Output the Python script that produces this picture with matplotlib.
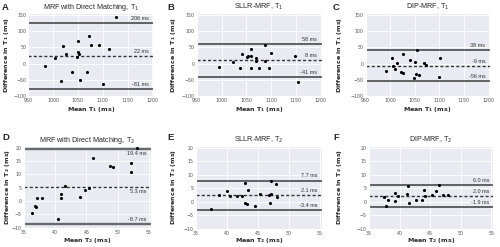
import matplotlib
matplotlib.use("Agg")
import matplotlib.pyplot as plt
import matplotlib.transforms as mtransforms
import seaborn as sns

sns.set_style("darkgrid")
plt.rcParams['font.family'] = ['DejaVu Sans']

# ---------------- data ----------------
titles = ["MRF with Direct Matching, T$_1$", "SLLR-MRF, T$_1$", "DIP-MRF, T$_1$",
          "MRF with Direct Matching, T$_2$", "SLLR-MRF, T$_2$", "DIP-MRF, T$_2$"]
letters = ["A", "B", "C", "D", "E", "F"]

a_x = [1127, 1072, 1051, 1020, 1076, 1093, 1113, 1027, 1051, 1053, 1049, 1003, 983, 1039, 1069, 1016, 1055, 1100]
a_y = [145, 87, 70, 55, 59, 58, 44, 31, 35, 29, 19, 18, -9, -26, -26, -54, -51, -64]
b_x = [994, 1023, 1037, 1042, 1051, 1053, 1060, 1059, 1060, 1069, 1070, 1075, 1088, 1087, 1095, 1100, 1149, 1155]
b_y = [-11, 4, -13, 29, 21, 23, 44, 23, -14, 17, 9, -13, 59, 8, -15, 32, 23, -57]
c_x = [1003, 1026, 1055, 1040, 1051, 1015, 991, 1006, 1010, 1022, 1027, 1048, 1053, 1059, 1068, 1072, 1102, 1099]
c_y = [16, 30, 41, 11, 6, 1, -24, -9, -16, -26, -29, -45, -33, -36, 1, -5, 18, -41]
d_x = [36.3, 36.7, 37.0, 37.1, 37.9, 40.4, 41.0, 41.0, 41.5, 44.0, 44.8, 45.4, 46.1, 48.8, 49.2, 52.2, 52.2, 53.1]
d_y = [-4.3, -1.8, -2.3, 1.0, 1.2, -6.8, 2.6, 1.3, 5.8, 1.4, 4.1, 4.9, 16.0, 13.0, 12.7, 14.4, 10.8, 19.9]
e_x = [37.4, 38.7, 40.1, 40.5, 41.6, 42.4, 43.0, 42.9, 43.3, 43.4, 44.5, 45.4, 47.1, 46.8, 47.1, 46.9, 47.9, 48.1]
e_y = [-2.6, 2.3, 3.8, 2.0, 2.1, 2.0, 6.8, -0.6, -0.9, 4.3, -1.8, 2.9, 7.8, 2.3, 2.8, -0.4, 6.6, 1.8]
f_x = [37.4, 37.7, 38.1, 39.2, 39.2, 39.8, 41.2, 41.4, 41.6, 42.7, 43.6, 44.0, 44.1, 45.3, 45.9, 46.4, 47.1, 47.9]
f_y = [1.6, -1.5, 0.5, 3.0, 0.1, 1.9, 2.8, 5.7, -0.7, 0.4, 0.5, 4.3, 1.9, 2.3, 4.0, 6.3, 2.6, 2.6]

# agreement lines: upper limit, mean, lower limit (as drawn) and their labels
lines_y = [[125, 23, -80], [61, 10, -42], [41, -7, -54],
           [19.5, 5.4, -8.7], [7.8, 2.4, -3.3], [6.1, 2.2, -1.9]]
line_labels = [["206 ms", "22 ms", "-81 ms"], ["58 ms", "8 ms", "-41 ms"],
               ["38 ms", "-9 ms", "-56 ms"], ["19.4 ms", "5.3 ms", "-8.7 ms"],
               ["7.7 ms", "2.1 ms", "-3.4 ms"], ["6.0 ms", "2.0 ms", "-1.9 ms"]]

t1_xticks = [950, 1000, 1050, 1100, 1150, 1200]
t1_yticks = [-100, -50, 0, 50, 100, 150]
t2_xticks = [35, 40, 45, 50, 55]
t2_yticks = [-10, -5, 0, 5, 10, 15, 20]

xs = [a_x, b_x, c_x, d_x, e_x, f_x]
ys = [a_y, b_y, c_y, d_y, e_y, f_y]

# ---------------- figure ----------------
W, H = 500, 247
fig = plt.figure(figsize=(5.0, 2.47), dpi=100)

def frac(left, right, top, bottom):
    return [left / W, 1 - bottom / H, (right - left) / W, (bottom - top) / H]

px_boxes = [(28.3, 153.3, 13.0, 96.0), (196.7, 321.7, 13.0, 96.0), (365.5, 489.5, 13.0, 96.0),
            (24.0, 150.7, 146.1, 227.8), (195.7, 321.7, 146.1, 228.5), (369.0, 493.3, 146.1, 228.5)]
ylabel_x = [7, 173, 339, 7, 173, 339]
xlabel_y = [109, 109, 109, 240, 240, 240]
letter_xy = [(2, 10), (167, 10), (333, 10), (2, 140), (167, 140), (333, 140)]
limit_lw = [1.2, 1.2, 1.2, 1.7, 1.2, 1.2]
limit_col = ["#4a4a4a", "#4a4a4a", "#4a4a4a", "#6a6a6a", "#4a4a4a", "#4a4a4a"]

label_va = [["bottom", "bottom", "bottom"]] * 3 + [["top", "top", "bottom"]] + [["bottom", "bottom", "bottom"]] * 2

for i in range(6):
    l, r, t, b = px_boxes[i]
    ax = fig.add_axes(frac(l, r, t, b))
    t1 = i < 3
    ax.scatter(xs[i], ys[i], s=5, color="black", zorder=3, linewidths=0)
    up, mn, lo = lines_y[i]
    ax.axhline(up, color=limit_col[i], lw=limit_lw[i], zorder=2)
    ax.axhline(lo, color=limit_col[i], lw=limit_lw[i], zorder=2)
    ax.axhline(mn, color="#333333", lw=1.0, ls=(0, (2.2, 1.6)), zorder=2)
    trans = mtransforms.blended_transform_factory(ax.transAxes, ax.transData)
    for val, lab, va in zip(lines_y[i], line_labels[i], label_va[i]):
        off = 1.5 if va == "bottom" else -1.5
        ax.annotate(lab, xy=(0.965, val), xycoords=trans, xytext=(0, off),
                    textcoords="offset points", ha="right", va=va,
                    fontsize=4.0, color="#333333", family="Liberation Sans")
    if t1:
        ax.set_xlim(950, 1202)
        ax.set_ylim(-101, 157)
        ax.set_xticks(t1_xticks)
        ax.set_yticks(t1_yticks)
        sub = "1"
    else:
        ax.set_xlim(35, 55.3)
        ax.set_ylim(-10, 20.6)
        ax.set_xticks(t2_xticks)
        ax.set_yticks(t2_yticks)
        sub = "2"
    ax.tick_params(labelsize=3.4, pad=1.5, colors="#555555", length=0)
    ax.grid(color="white", lw=0.6)
    ax.set_xlabel(r"Mean T$_\mathbf{%s}$ (ms)" % sub, fontsize=4.5, fontweight="bold")
    ax.set_ylabel(r"Difference in T$_\mathbf{%s}$ (ms)" % sub, fontsize=4.6, fontweight="bold")
    ax.yaxis.set_label_coords((ylabel_x[i] - l) / (r - l), 0.5)
    ax.xaxis.set_label_coords(0.5, (b - xlabel_y[i]) / (b - t))
    ax.xaxis.label.set_va("center")
    ax.yaxis.label.set_va("center")
    ax.set_title(titles[i], fontsize=5.2, family="Liberation Sans", pad=3)
    lx, ly = letter_xy[i]
    fig.text(lx / W, 1 - ly / H, letters[i],
             fontsize=6.8, fontweight="bold", family="Liberation Sans", ha="left", va="baseline")

fig.savefig("out.png", dpi=100)
